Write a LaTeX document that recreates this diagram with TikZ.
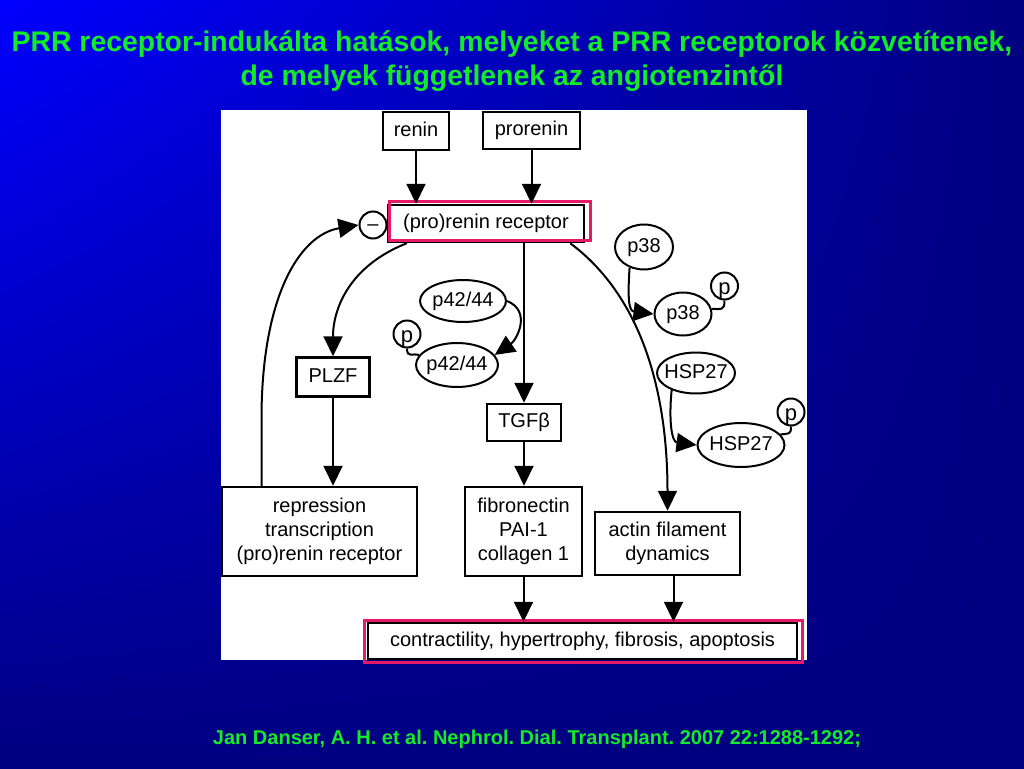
\documentclass[tikz,border=0pt]{standalone}
\usepackage{fontspec}
\setmainfont{Liberation Sans}
\usepackage{tikz}
\usetikzlibrary{shapes,arrows.meta,shadings}
\frenchspacing

\definecolor{navy}{RGB}{0,0,128}
\definecolor{slideblue}{RGB}{0,0,255}
\definecolor{titlegreen}{RGB}{20,235,40}
\definecolor{marker}{RGB}{230,25,105}

\tikzset{
    box/.style={draw, line width=2.5pt, fill=white, inner sep=0pt, align=center, font=\fontsize{20}{24}\selectfont},
    oneline/.style={text height=14.5pt, text depth=4.5pt},
    oval/.style={draw, ellipse, line width=2pt, fill=white, inner xsep=-8pt, inner ysep=0pt, oneline, font=\fontsize{20}{24}\selectfont},
    pdot/.style={draw, circle, line width=2pt, fill=white, inner sep=0pt, minimum size=27pt, text height=18pt, text depth=2pt, font=\fontsize{22}{26}\selectfont},
    arr/.style={line width=2pt, -{Triangle[length=20pt,width=19pt]}},
    link/.style={line width=2pt},
    hilite/.style={draw=marker, line width=3pt},
    title/.style={text=titlegreen, inner sep=0pt, anchor=base, font=\bfseries\fontsize{28.4}{34}\selectfont},
    source/.style={text=titlegreen, inner sep=0pt, anchor=base, font=\bfseries\fontsize{20}{24}\selectfont}
}

\begin{document}
\begin{tikzpicture}[x=1pt,y=-1pt]
    \useasboundingbox (0,0) rectangle (1024,768);
    \shade[upper left=slideblue, upper right=navy, lower left=navy, lower right=navy] (0,0) rectangle (1024,768);
    \fill[white] (221,110) rectangle (807,660);

    \node[title] (head) at (512,52) {PRR receptor-indukálta hatások, melyeket a PRR receptorok közvetítenek,};
    \node[title] (head2) at (512,85) {de melyek függetlenek az angiotenzintől};
    \node[source] (ref) at (537,744) {Jan Danser, A. H. et al. Nephrol. Dial. Transplant. 2007 22:1288-1292;};

    \node[box, oneline, minimum width=66pt, minimum height=38pt] (renin) at (416,131) {renin};
    \node[box, oneline, minimum width=97pt, minimum height=37pt] (prorenin) at (531.5,130.5) {prorenin};
    \node[box, oneline, minimum width=196pt, minimum height=37pt] (receptor) at (486,223.5) {(pro)renin receptor};
    \draw[hilite] ([shift={(3,-2)}]receptor.north west) rectangle ([shift={(5,-3)}]receptor.south east);
    \node[pdot, text height=12pt, text depth=1.6pt, font=\fontsize{20}{24}\selectfont] (minus) at (373,225) {–};
    \node[box, oneline, minimum width=73pt, minimum height=39pt] (plzf) at (333,377) {PLZF};
    \node[oval, minimum width=86pt, minimum height=42pt] (erk) at (463,301) {p42/44};
    \node[oval, minimum width=82pt, minimum height=44pt] (perk) at (457,365) {p42/44};
    \node[pdot] (perkp) at (407,334) {p};
    \node[box, oneline, minimum width=74pt, minimum height=37pt] (tgf) at (524,422.5) {TGFβ};
    \node[oval, minimum width=58pt, minimum height=45pt] (mapk) at (644,247) {p38};
    \node[oval, minimum width=57pt, minimum height=43pt] (pmapk) at (683,314) {p38};
    \node[pdot] (pmapkp) at (724.5,286) {p};
    \node[oval, minimum width=78pt, minimum height=41pt] (hsp) at (696,373) {HSP27};
    \node[oval, minimum width=87pt, minimum height=44pt] (phsp) at (741,445) {HSP27};
    \node[pdot] (phspp) at (791,412) {p};
    \node[box, minimum width=195pt, minimum height=89pt] (repress) at (319.5,531.5) {repression\\transcription\\(pro)renin receptor};
    \node[box, minimum width=117pt, minimum height=89pt] (matrix) at (523.5,531.5) {fibronectin\\PAI-1\\collagen 1};
    \node[box, minimum width=145pt, minimum height=63pt] (actin) at (667.5,543.5) {actin filament\\dynamics};
    \node[box, oneline, minimum width=429pt, minimum height=36pt] (effects) at (582.5,641) {contractility, hypertrophy, fibrosis, apoptosis};
    \draw[hilite] ([shift={(-2,-1)}]effects.north west) rectangle ([shift={(4,2)}]effects.south east);
    \coordinate (actout) at ([xshift=6pt]actin.south);

    \draw[arr] (renin) -- (renin |- receptor.north);
    \draw[arr] (prorenin) -- (prorenin |- receptor.north);
    \draw[arr] ([xshift=20pt]receptor.south west) .. controls +(-58,23) and +(0,-47) .. (plzf.north);
    \draw[arr] (receptor.south -| tgf) -- (tgf.north);
    \draw[arr] ([xshift=-15pt]receptor.south east) .. controls +(71,53) and +(0,-120) .. (actin.north);
    \draw[arr] (plzf) -- (plzf |- repress.north);
    \draw[arr] (tgf) -- (tgf |- matrix.north);
    \draw[arr] ([xshift=-58pt]repress.north) -- +(0,-67) .. controls +(0,-120) and +(-60,10) .. (minus.west);
    \draw[arr] (erk.east) .. controls +(25,10) and +(22,-15) .. (perk.15);
    \draw[link] (perkp.south) .. controls +(0,10) and +(-6,-2) .. (perk.165);
    \draw[arr] (mapk.235) .. controls +(-2,30) and +(-25,-3) .. (pmapk.west);
    \draw[link] (pmapk.10) .. controls +(10,0) and +(0,10) .. (pmapkp.south);
    \draw[arr] (hsp.215) .. controls +(-3,30) and +(-25,-3) .. (phsp.west);
    \draw[link] (phsp.15) .. controls +(9,-1) and +(0,8) .. (phspp.south);
    \draw[arr] (matrix) -- (matrix |- effects.north);
    \draw[arr] (actout) -- (actout |- effects.north);
\end{tikzpicture}
\end{document}
